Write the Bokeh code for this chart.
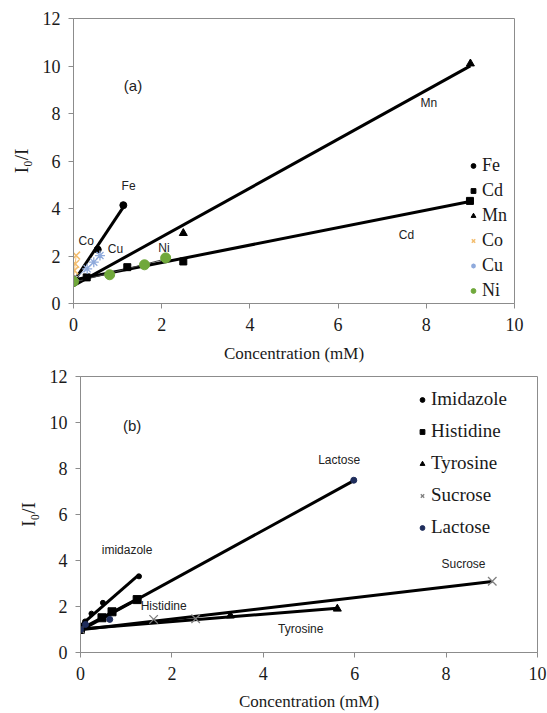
import numpy as np
from bokeh.plotting import figure
from bokeh.models import Range1d, FixedTicker
from bokeh.core.properties import value
from bokeh.embed import file_html
from bokeh.resources import INLINE

# ---------------- Panel (a) data: metal ions ----------------
fe_x = [0.0, 0.55, 1.13]
fe_y = [1.0, 2.27, 4.14]
cd_x = [0.0, 0.30, 1.22, 2.49, 8.99]
cd_y = [1.0, 1.10, 1.53, 1.77, 4.32]
mn_x = [0.0, 2.49, 9.00]
mn_y = [1.0, 2.96, 10.10]
co_x = [0.0, 0.02, 0.04, 0.06]
co_y = [1.0, 1.39, 1.67, 2.02]
cu_x = [0.0, 0.31, 0.46, 0.60]
cu_y = [1.0, 1.46, 1.74, 2.02]
ni_x = [0.0, 0.82, 1.61, 2.09]
ni_y = [0.93, 1.21, 1.63, 1.92]

# ---------------- Panel (b) data: organics ----------------
im_x = [0.0, 0.10, 0.24, 0.49, 1.28]
im_y = [1.0, 1.35, 1.69, 2.16, 3.31]
hi_x = [0.0, 0.47, 0.69, 1.24]
hi_y = [1.0, 1.51, 1.77, 2.30]
ty_x = [0.0, 3.28, 5.62]
ty_y = [1.0, 1.60, 1.90]
su_x = [0.0, 1.60, 2.52, 9.01]
su_y = [1.0, 1.44, 1.47, 3.10]
la_x = [0.0, 0.11, 0.64, 5.98]
la_y = [1.0, 1.22, 1.44, 7.49]

x_ticks = [0, 2, 4, 6, 8, 10]
y_ticks = [0, 2, 4, 6, 8, 10, 12]

# annotation texts (text, x, y)
labels_a = [("Fe", 1.25, 4.93), ("Co", 0.29, 2.62), ("Cu", 0.95, 2.30),
            ("Ni", 2.05, 2.35), ("Mn", 8.06, 8.43), ("Cd", 7.55, 2.89)]
labels_b = [("imidazole", 1.02, 4.44), ("Histidine", 1.82, 2.02),
            ("Tyrosine", 4.82, 1.04), ("Lactose", 5.66, 8.36),
            ("Sucrose", 8.38, 3.86)]

SERIF = "'Times New Roman', 'Liberation Serif', serif"
SANS = "Arial, 'Liberation Sans', sans-serif"


def trend(xs, ys):
    k, b = np.polyfit(xs, ys, 1)
    x0, x1 = min(xs), max(xs)
    return [x0, x1], [k * x0 + b, k * x1 + b]


def style(p, tick_standoff, title_standoff):
    p.xgrid.visible = False
    p.ygrid.visible = False
    p.outline_line_color = "#8c8c8c"
    p.outline_line_width = 1
    for ax in (p.xaxis, p.yaxis):
        ax.axis_line_color = "#8c8c8c"
        ax.major_tick_line_color = "#8c8c8c"
        ax.major_tick_in = 0
        ax.major_tick_out = 5
        ax.minor_tick_line_color = None
        ax.major_label_text_font = SERIF
        ax.major_label_text_font_size = "18px"
        ax.major_label_text_color = "#1a1a1a"
        ax.axis_label_text_font = SERIF
        ax.axis_label_text_font_style = "normal"
        ax.axis_label_text_color = "#1a1a1a"
    p.xaxis.ticker = FixedTicker(ticks=x_ticks)
    p.yaxis.ticker = FixedTicker(ticks=y_ticks)
    p.xaxis.axis_label = "Concentration (mM)"
    p.xaxis.axis_label_text_font_size = "17px"
    p.yaxis.axis_label = "I\u2080/I"
    p.yaxis.axis_label_text_font_size = "19px"
    p.yaxis.major_label_standoff = 8
    p.xaxis.major_label_standoff = tick_standoff
    p.xaxis.axis_label_standoff = title_standoff
    p.yaxis.axis_label_standoff = 8


# ---------------- Figure (a) ----------------
pa = figure(width=547, height=365, output_backend="svg", toolbar_location=None,
            x_range=Range1d(0, 10), y_range=Range1d(0, 12),
            min_border_left=73, min_border_right=33, min_border_top=18,
            min_border_bottom=62)
style(pa, 9, 10)

for xs, ys, w, c in [(fe_x, fe_y, 3, "black"), (mn_x, mn_y, 3, "black"),
                     (cd_x, cd_y, 3, "black"), (ni_x, ni_y, 1, "#444444"),
                     (cu_x, cu_y, 1, "#8faadc"), (co_x, co_y, 1, "#f5c27a")]:
    lx, ly = trend(xs, ys)
    pa.line(lx, ly, line_width=w, line_color=c)

pa.scatter(fe_x, fe_y, marker="circle", size=7, color="black", legend_label="Fe")
pa.scatter(cd_x, cd_y, marker="square", size=7, color="black", legend_label="Cd")
pa.scatter(mn_x, mn_y, marker="triangle", size=8, color="black", legend_label="Mn")
pa.scatter(co_x, co_y, marker="x", size=11, line_color="#f3bd6e", line_width=1.5,
           legend_label="Co")
pa.scatter(cu_x, cu_y, marker="asterisk", size=10, line_color="#8faadc",
           line_width=1.3, legend_label="Cu")
pa.scatter(ni_x, ni_y, marker="circle", size=10, color="#70a83b", legend_label="Ni")

pa.text([l[1] for l in labels_a], [l[2] for l in labels_a], text=[l[0] for l in labels_a],
        text_font=value(SANS), text_font_size="12px", text_color="#222222",
        text_align="center", text_baseline="middle")
pa.text([1.35], [9.18], text=["(a)"], text_font=value(SANS), text_font_size="15px",
        text_color="#222222", text_align="center", text_baseline="middle")

lg = pa.legend[0]
lg.location = (394, 0)
lg.padding = 0
lg.margin = 0
lg.spacing = 0
lg.glyph_width = 12
lg.glyph_height = 25
lg.label_height = 25
lg.label_standoff = 3
lg.label_text_font = SERIF
lg.label_text_font_size = "18px"
lg.label_text_color = "#1a1a1a"
lg.border_line_color = None
lg.background_fill_alpha = 0

# ---------------- Figure (b) ----------------
pb = figure(width=547, height=348, output_backend="svg", toolbar_location=None,
            x_range=Range1d(0, 10), y_range=Range1d(0, 12),
            min_border_left=80, min_border_right=10, min_border_top=11,
            min_border_bottom=60)
style(pb, 9, 9)

for xs, ys in [(im_x, im_y), (hi_x, hi_y), (ty_x, ty_y), (su_x, su_y), (la_x, la_y)]:
    lx, ly = trend(xs, ys)
    pb.line(lx, ly, line_width=3, line_color="black")

pb.scatter(im_x, im_y, marker="circle", size=5, color="black", legend_label="Imidazole")
pb.scatter(hi_x, hi_y, marker="square", size=8, color="black", legend_label="Histidine")
pb.scatter(ty_x, ty_y, marker="triangle", size=8, color="black", legend_label="Tyrosine")
pb.scatter(su_x, su_y, marker="x", size=12, line_color="#7f7f7f", line_width=1.3,
           legend_label="Sucrose")
pb.scatter(la_x, la_y, marker="circle", size=6, color="#1f2d5c", legend_label="Lactose")

pb.text([l[1] for l in labels_b], [l[2] for l in labels_b], text=[l[0] for l in labels_b],
        text_font=value(SANS), text_font_size="12px", text_color="#222222",
        text_align="center", text_baseline="middle")
pb.text([1.13], [9.86], text=["(b)"], text_font=value(SANS), text_font_size="15px",
        text_color="#222222", text_align="center", text_baseline="middle")

lgb = pb.legend[0]
lgb.location = (336, 114)
lgb.padding = 0
lgb.margin = 0
lgb.spacing = 10
lgb.glyph_width = 12
lgb.glyph_height = 21
lgb.label_height = 21
lgb.label_standoff = 3
lgb.label_text_font = SERIF
lgb.label_text_font_size = "19px"
lgb.label_text_color = "#1a1a1a"
lgb.border_line_color = None
lgb.background_fill_alpha = 0

open("out.html", "w").write(file_html([pa, pb], INLINE))
